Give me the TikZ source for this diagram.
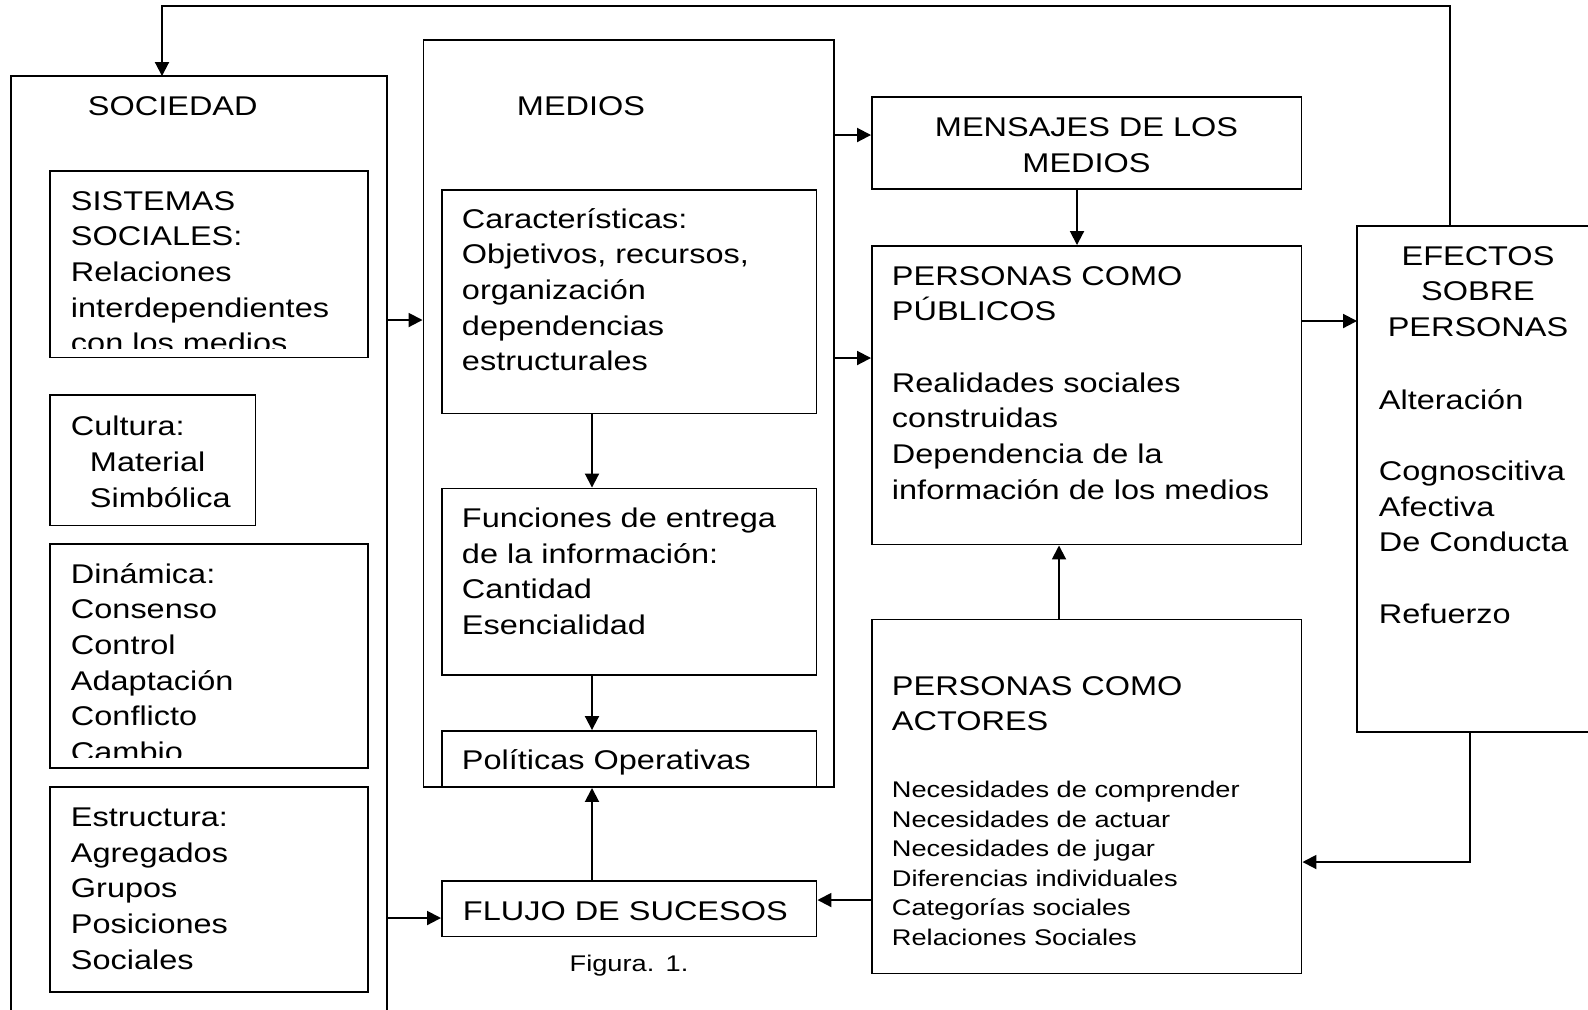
\documentclass[tikz,border=0pt]{standalone}
\usepackage{fontspec}
\setmainfont{Liberation Sans}[FakeStretch=1.2]
\usetikzlibrary{arrows.meta,fit}
\newcommand{\letragrande}{\fontsize{15.4pt}{20.3pt}\selectfont}
\newcommand{\letrachica}{\fontsize{12.9pt}{16.8pt}\selectfont}

\begin{document}
\begin{tikzpicture}[x=0.02cm,y=-0.02cm,line width=1.1pt,
    caja/.style={draw,inner sep=0pt},
    marco/.style={inner sep=0pt},
    texto/.style={inner sep=0pt,anchor=base west,align=left,text width=9cm,font=\letragrande},
    centro/.style={inner sep=0pt,anchor=base,align=center,text width=8cm,font=\letragrande},
    flecha/.style={-{Triangle[length=0.28cm,width=0.28cm]}}]
\useasboundingbox (0,0) rectangle (1588,1009);

\node[marco,fit={(12,77) (386,1015)}] (soc) {};
\draw (soc.south west) |- (soc.north east) -- (soc.south east);
\node[texto] (soctxt) at (87,115) {SOCIEDAD};

\node[caja,fit={(50,171) (368,357.5)}] (sis) {};
\begin{scope}
  \clip (sis.north west) rectangle (368,348);
  \node[texto] (sistxt) at (70,210) {SISTEMAS\\SOCIALES:\\Relaciones\\interdependientes\\con los medios};
\end{scope}

\node[caja,fit={(50,395) (255.5,525.5)}] (cul) {};
\node[texto] (cultxt) at (70,435.7) {Cultura:\\\hspace*{0.38cm}Material\\\hspace*{0.38cm}Simbólica};

\node[caja,fit={(50,544) (368,768)}] (din) {};
\begin{scope}
  \clip (din.north west) rectangle (368,757);
  \node[texto] (dintxt) at (70,583) {Dinámica:\\Consenso\\Control\\Adaptación\\Conflicto\\Cambio};
\end{scope}

\node[caja,fit={(50,787) (368,992)}] (est) {};
\node[texto] (esttxt) at (70,826.4) {Estructura:\\Agregados\\Grupos\\Posiciones\\Sociales};

\node[caja,fit={(423.5,40) (834,787)}] (med) {};
\node[texto] (medtxt) at (516,115) {MEDIOS};

\node[caja,fit={(442,190) (816.5,413.5)}] (car) {};
\node[texto] (cartxt) at (461,228.3) {Características:\\Objetivos, recursos,\\organización\\dependencias\\estructurales};

\node[caja,fit={(442,488.5) (816.5,675)}] (fun) {};
\node[texto] (funtxt) at (461,527.4) {Funciones de entrega\\de la información:\\Cantidad\\Esencialidad};

\node[caja,fit={(442,731) (816.5,787)}] (pol) {};
\node[texto] (poltxt) at (461,769) {Políticas Operativas};

\node[caja,fit={(442,881) (816.5,936.5)}] (flujo) {};
\node[texto] (flujotxt) at (462,920) {FLUJO DE SUCESOS};
\node[centro,font=\letrachica] (fig) at (629,971.7) {Figura. 1.};

\node[caja,fit={(872,96.7) (1301.5,189.3)}] (mens) {};
\node[centro] (menstxt) at (1086.5,136.7) {MENSAJES DE LOS\\MEDIOS};

\node[caja,fit={(872,246) (1301.5,544.5)}] (pub) {};
\node[texto] (pubtxt) at (891,285) {PERSONAS COMO\\PÚBLICOS\\[\baselineskip]Realidades sociales\\construidas\\Dependencia de la\\información de los medios};

\node[caja,fit={(872,619.5) (1301.5,973.5)}] (act) {};
\node[texto] (acttxt) at (891,695) {PERSONAS COMO\\ACTORES};
\node[texto,font=\letrachica] (actlista) at (891,797.5) {Necesidades de comprender\\Necesidades de actuar\\Necesidades de jugar\\Diferencias individuales\\Categorías sociales\\Relaciones Sociales};

\node[marco,fit={(1358,227.3) (1595,731)}] (efe) {};
\draw (efe.north east) -- (efe.north west) -- (efe.south west) -- (efe.south east);
\node[centro] (efetxt) at (1478,265) {EFECTOS\\SOBRE\\PERSONAS};
\node[texto] (efelista) at (1378,409) {Alteración\\[\baselineskip]Cognoscitiva\\Afectiva\\De Conducta\\[\baselineskip]Refuerzo};

\draw[flecha] (soc.east |- 0,320) -- (med.west |- 0,320);
\draw[flecha] (soc.east |- 0,918) -- (flujo.west |- 0,918);
\draw[flecha] (med.east |- 0,135) -- (mens.west |- 0,135);
\draw[flecha] (med.east |- 0,358) -- (pub.west |- 0,358);
\draw[flecha] (1077,0 |- mens.south) -- (1077,0 |- pub.north);
\draw[flecha] (1059,0 |- act.north) -- (1059,0 |- pub.south);
\draw[flecha] (pub.east |- 0,321) -- (efe.west |- 0,321);
\draw[flecha] (1470,0 |- efe.south) |- (act.east |- 0,862);
\draw[flecha] (1450,0 |- efe.north) -- (1450,6) -| (soc.north -| 162,0);
\draw[flecha] (act.west |- 0,900) -- (flujo.east |- 0,900);
\draw[flecha] (592,0 |- car.south) -- (592,0 |- fun.north);
\draw[flecha] (592,0 |- fun.south) -- (592,0 |- pol.north);
\draw[flecha] (592,0 |- flujo.north) -- (592,0 |- med.south);
\end{tikzpicture}
\end{document}
